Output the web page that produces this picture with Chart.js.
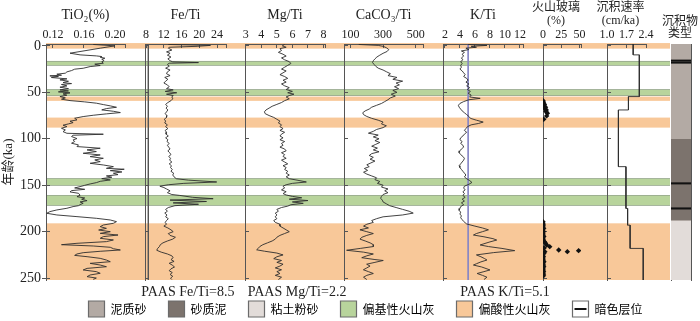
<!DOCTYPE html>
<html>
<head>
<meta charset="utf-8">
<title>Core profiles</title>
<script src="https://cdn.jsdelivr.net/npm/chart.js@4.4.1/dist/chart.umd.min.js"></script>
<style>
  html, body { margin: 0; padding: 0; background: #fff; overflow: hidden; }
  #wrap { position: relative; width: 700px; height: 321px; overflow: hidden; }
  #wrap canvas { position: absolute; }
</style>
</head>
<body>
<div id="wrap"></div>
<script>
// ---------- data (age in ka) ----------
const ageTicks = [0, 50, 100, 150, 200, 250];

const tiAge = [-1.5, 0, 2.5, 7.9, 9.7, 10.8, 11.5, 12.2, 13.3, 14.4,
  15.8, 17.2, 18.7, 19.7, 21.2, 22.3, 24.1, 25.1, 26.6, 28.0,
  29.4, 30.5, 31.6, 32.3, 33.0, 34.1, 35.5, 36.6, 38.1, 39.5,
  40.6, 41.6, 43.1, 44.5, 46.0, 47.4, 48.5, 49.5, 50.6, 51.7,
  53.1, 54.6, 56.0, 57.4, 58.9, 60.3, 61.7, 63.2, 64.6, 66.1,
  67.5, 68.9, 70.4, 71.8, 73.2, 74.7, 76.1, 77.9, 79.7, 81.1,
  82.6, 84.0, 85.4, 86.9, 88.7, 90.5, 92.3, 94.1, 95.1, 96.2,
  97.6, 99.8, 101.2, 103.0, 104.8, 106.6, 108.4, 110.2, 112.0, 113.8,
  115.6, 117.4, 119.2, 121.0, 122.8, 124.6, 126.4, 128.2, 130.0, 131.8,
  132.8, 134.3, 135.7, 137.1, 138.6, 140.0, 141.4, 142.9, 144.3, 145.8,
  147.2, 148.6, 150.1, 151.5, 152.9, 154.4, 155.8, 157.2, 158.7, 160.8,
  162.3, 163.7, 165.1, 166.6, 168.0, 169.4, 170.9, 172.0, 173.0, 174.8,
  176.6, 178.4, 180.2, 182.0, 183.8, 185.6, 187.4, 189.2, 191.0, 192.8,
  194.6, 196.4, 198.2, 200.0, 201.8, 203.6, 205.3, 207.1, 208.9, 210.7,
  212.5, 214.0, 215.4, 216.8, 218.3, 219.7, 221.1, 222.6, 224.0, 225.5,
  226.9, 228.7, 230.5, 232.3, 234.1, 235.9, 237.7, 239.5, 241.2, 243.0,
  244.8, 246.6, 248.4, 249.9, 251.3];
const tiVal = [0.172, 0.200, 0.181, 0.142, 0.155, 0.176, 0.183, 0.181, 0.187, 0.183,
  0.186, 0.183, 0.185, 0.174, 0.181, 0.168, 0.159, 0.148, 0.144, 0.138,
  0.136, 0.125, 0.131, 0.116, 0.127, 0.118, 0.138, 0.129, 0.140, 0.133,
  0.144, 0.131, 0.138, 0.129, 0.140, 0.129, 0.140, 0.127, 0.142, 0.133,
  0.138, 0.129, 0.136, 0.131, 0.142, 0.161, 0.176, 0.185, 0.194, 0.202,
  0.189, 0.183, 0.198, 0.207, 0.189, 0.172, 0.159, 0.148, 0.151, 0.142,
  0.146, 0.140, 0.133, 0.138, 0.131, 0.136, 0.133, 0.138, 0.185, 0.146,
  0.144, 0.151, 0.146, 0.148, 0.144, 0.153, 0.151, 0.181, 0.164, 0.176,
  0.159, 0.181, 0.168, 0.185, 0.174, 0.181, 0.168, 0.185, 0.198, 0.189,
  0.212, 0.194, 0.209, 0.198, 0.204, 0.189, 0.196, 0.183, 0.194, 0.181,
  0.176, 0.168, 0.161, 0.155, 0.148, 0.161, 0.144, 0.142, 0.153, 0.155,
  0.151, 0.161, 0.157, 0.164, 0.155, 0.159, 0.155, 0.153, 0.146, 0.138,
  0.125, 0.116, 0.112, 0.125, 0.151, 0.176, 0.194, 0.202, 0.198, 0.185,
  0.181, 0.189, 0.179, 0.194, 0.181, 0.204, 0.185, 0.181, 0.198, 0.189,
  0.151, 0.131, 0.172, 0.194, 0.198, 0.207, 0.181, 0.159, 0.151, 0.148,
  0.164, 0.181, 0.189, 0.194, 0.168, 0.181, 0.189, 0.164, 0.159, 0.176,
  0.181, 0.168, 0.164, 0.176, 0.172];

const feAge = [-1.5, -0.5, 0.5, 1.5, 2.5, 4.5, 6.5, 8, 10, 12,
  14, 16, 17.2, 18, 18.7, 20, 22, 24, 26, 28,
  30, 32, 34, 36, 38, 40, 42, 44, 46, 47.4,
  49, 50.5, 52, 53.5, 55, 57, 59, 61, 63, 65,
  67, 69, 71, 73, 75, 77, 79, 81, 83, 85,
  87, 89, 91, 93, 95, 97, 99, 101, 103, 105,
  107, 109, 111, 113, 115, 117, 119, 121, 123, 125,
  127, 129, 131, 133, 135, 137, 139, 141, 143, 144.5,
  146.5, 148, 149.5, 151, 152.5, 154, 156, 158, 160, 161,
  163, 164.5, 166, 167.5, 169, 170.5, 172, 174, 176, 178,
  180, 182, 184, 186, 188, 190, 192, 194, 196, 198,
  200, 202, 204, 206, 208, 210, 212, 214, 216, 218,
  220, 222, 224, 226, 228, 230, 232, 234, 236, 238,
  240, 242, 244, 246, 248, 250, 251.5];
const feVal = [13.0, 22.5, 19.5, 13.2, 13.0, 13.8, 12.6, 13.4, 12.8, 13.6,
  12.9, 13.4, 14.0, 19.8, 13.2, 12.8, 13.2, 12.4, 13.4, 12.8,
  12.6, 13.4, 12.2, 12.9, 12.4, 12.0, 12.8, 13.2, 12.6, 14.1,
  12.3, 14.9, 12.6, 14.1, 13.8, 14.0, 13.6, 12.9, 12.4, 12.8,
  12.5, 12.9, 12.6, 12.3, 12.7, 12.6, 12.1, 12.4, 12.2, 12.8,
  12.4, 12.9, 12.3, 12.6, 12.5, 13.0, 12.4, 12.9, 12.7, 13.2,
  12.8, 13.1, 13.4, 12.9, 13.3, 13.6, 13.1, 13.5, 13.3, 13.8,
  13.2, 13.7, 13.5, 13.9, 13.6, 14.2, 14.0, 14.3, 14.8, 17.5,
  23.9, 16.5, 13.0, 11.1, 12.0, 12.6, 13.4, 12.8, 13.8, 15.6,
  18.5, 23.1, 13.4, 21.6, 14.1, 19.8, 14.5, 13.0, 12.4, 12.8,
  12.2, 12.7, 12.4, 13.0, 12.6, 12.3, 12.6, 12.0, 12.9, 13.6,
  14.1, 13.0, 13.4, 14.6, 14.0, 12.8, 11.8, 11.2, 11.0, 10.6,
  10.4, 11.4, 12.8, 13.8, 14.1, 13.6, 14.3, 13.2, 13.9, 14.4,
  13.6, 13.2, 13.9, 13.4, 14.0, 13.5, 13.8];

const mgAge = [-1.5, 0, 1.5, 3, 5, 7, 9, 11, 13, 15,
  17, 19, 21, 23, 25, 27, 29, 31, 33, 35,
  37, 39, 41, 43, 45, 47, 49, 50.5, 52, 53.5,
  55, 57, 59, 61, 63, 65, 67, 69, 71, 73,
  75, 77, 79, 81, 83, 85, 87, 89, 91, 93,
  95, 97, 99, 101, 103, 105, 107, 109, 111, 113,
  115, 117, 119, 121, 123, 125, 127, 129, 131, 133,
  135, 137, 139, 141, 143, 144.5, 146.5, 148, 149.5, 151,
  153, 155, 157, 159, 160.5, 162, 163.5, 165, 166.5, 168,
  169.5, 171, 172.5, 174, 176, 178, 180, 182, 184, 186,
  188, 190, 192, 194, 196, 198, 200, 202, 204, 206,
  208, 210, 212, 214, 216, 218, 219.5, 221, 223, 225,
  227, 229, 231, 233, 235, 237, 239, 241, 243, 245,
  247, 249, 251.5];
const mgVal = [5.5, 5.35, 5.6, 5.2, 5.3, 5.1, 5.4, 5.6, 5.3, 5.5,
  5.8, 5.9, 5.7, 5.5, 5.3, 5.6, 5.4, 5.2, 5.5, 5.7,
  5.4, 5.6, 5.3, 5.5, 5.8, 5.6, 6.0, 5.7, 6.1, 5.8,
  5.6, 5.8, 5.5, 5.3, 5.0, 4.7, 4.5, 4.3, 4.2, 4.25,
  4.5, 4.8, 5.0, 5.2, 5.1, 5.3, 5.2, 5.4, 5.2, 5.5,
  5.3, 5.2, 5.4, 5.2, 5.5, 5.3, 5.4, 5.2, 5.5, 5.6,
  5.3, 5.5, 5.4, 5.6, 5.3, 5.5, 5.7, 5.4, 5.6, 5.5,
  5.7, 5.6, 5.8, 5.6, 5.8, 6.3, 6.9, 6.0, 5.6, 5.4,
  5.5, 5.3, 5.6, 5.4, 5.6, 6.0, 6.6, 5.8, 7.0, 6.0,
  6.7, 5.9, 5.7, 5.3, 5.0, 5.1, 4.9, 5.0, 4.9, 5.0,
  4.8, 4.9, 5.2, 5.2, 5.4, 5.6, 5.8, 5.5, 5.2, 5.0,
  4.9, 4.7, 4.4, 4.1, 3.9, 3.8, 3.7, 4.2, 5.0, 5.4,
  5.0, 4.8, 5.3, 5.0, 5.4, 5.2, 4.9, 5.3, 5.0, 5.2,
  4.9, 5.3, 5.1];

const caAge = [-1.5, -0.5, 0.5, 2, 4, 6, 8, 10, 12, 14,
  16, 18, 20, 22, 24, 26, 28, 30, 32, 34,
  36, 38, 40, 42, 44, 46, 48, 50, 52, 54,
  56, 58, 60, 62, 64, 66, 68, 70, 72, 74,
  76, 78, 80, 82, 84, 86, 88, 90, 92, 94,
  96, 98, 100, 102, 104, 106, 108, 110, 112, 114,
  116, 118, 120, 122, 124, 126, 128, 130, 132, 134,
  136, 138, 140, 142, 144, 146, 148, 150, 152, 154,
  156, 158, 160, 162, 164, 166, 168, 170, 172, 174,
  176, 178, 180, 182, 184, 186, 188, 190, 192, 194,
  196, 198, 200, 202, 204, 206, 208, 210, 212, 214,
  216, 218, 220, 222, 224, 226, 228, 230, 231, 233,
  235, 237, 239, 241, 243, 245, 247, 249, 251.5];
const caVal = [150, 270, 300, 320, 335, 325, 300, 280, 262, 250,
  240, 235, 245, 255, 270, 300, 322, 345, 330, 385,
  360, 420, 380, 400, 370, 395, 360, 385, 350, 375,
  345, 330, 310, 290, 260, 230, 215, 190, 175, 180,
  200, 230, 270, 300, 290, 320, 300, 260, 240, 210,
  270, 240, 275, 250, 280, 255, 230, 265, 240, 275,
  230, 215, 240, 220, 250, 225, 200, 215, 185, 205,
  180, 200, 230, 260, 250, 280, 265, 300, 290, 330,
  310, 330, 300, 290, 285, 295, 300, 320, 340, 380,
  420, 460, 485, 420, 300, 260, 230, 240, 200, 180,
  210, 158, 200, 240, 200, 170, 158, 190, 220, 240,
  240, 160, 76, 180, 240, 200, 169, 250, 301, 250,
  199, 220, 200, 179, 210, 240, 200, 180, 200];

const kAge = [-1.5, -0.5, 0.5, 1.5, 2.5, 4, 5.5, 7, 9, 11,
  13, 15, 17, 19, 21, 23, 25, 27, 29, 31,
  33, 35, 37, 39, 41, 43, 45, 47, 49, 51,
  53, 55, 56.5, 58, 60, 62, 64, 66, 68, 70,
  72, 74, 76, 78, 80, 82, 83.5, 85, 87, 89,
  91, 93, 95, 97, 99, 101, 103, 105, 107, 109,
  111, 113, 115, 117, 119, 121, 123, 125, 127, 129,
  131, 133, 135, 137, 139, 141, 143, 145, 147, 149,
  151, 153, 155, 157, 159, 161, 163, 165, 167, 169,
  171, 173, 175, 177, 179, 181, 183, 185, 187, 189,
  191.7, 194, 196, 198, 200, 202, 203.6, 205.5, 207.5, 209,
  211, 213, 214.3, 216, 218, 220.4, 222.5, 225, 227, 229,
  230.5, 232.5, 234.5, 235.9, 238, 240, 241.2, 243, 245, 247,
  249, 251.5];
const kVal = [5.0, 7.6, 5.5, 6.2, 4.8, 5.2, 4.2, 4.6, 4.3, 4.5,
  4.2, 4.4, 4.1, 4.3, 4.1, 4.2, 4.0, 4.3, 4.5, 4.7,
  4.5, 4.9, 5.1, 4.8, 5.2, 4.9, 5.3, 5.0, 5.4, 5.1,
  5.5, 5.3, 6.7, 5.2, 4.5, 4.0, 3.8, 3.9, 4.1, 4.3,
  4.6, 4.9, 5.2, 5.4, 6.2, 7.1, 6.5, 5.5, 5.0, 4.8,
  4.6, 4.9, 4.6, 4.4, 4.1, 4.0, 4.3, 4.1, 4.4, 4.5,
  4.2, 4.0, 3.9, 4.1, 4.4, 4.6, 4.5, 4.3, 4.1, 3.9,
  4.0, 4.2, 4.4, 4.6, 4.8, 4.6, 4.9, 5.3, 5.6, 5.2,
  4.6, 4.5, 4.7, 4.4, 4.6, 4.4, 4.7, 4.3, 4.6, 4.2,
  4.5, 4.1, 4.0, 3.9, 4.1, 4.0, 4.2, 4.1, 4.3, 4.5,
  4.9, 6.0, 7.0, 7.8, 7.0, 6.2, 5.8, 7.2, 8.4, 8.9,
  8.0, 7.2, 6.7, 7.8, 9.6, 11.3, 8.5, 6.2, 6.8, 7.3,
  7.6, 6.8, 6.2, 5.8, 6.9, 7.6, 8.0, 7.2, 6.3, 7.0,
  7.6, 7.2];

// volcanic glass (%) sample points
const glassAge = [58.9, 60.3, 61.7, 63.2, 64.6, 66.1, 67.5, 68.9, 70.7, 72.5, 75.4, 79.0,
  189.2, 191.0, 192.8, 194.6, 196.4, 198.2, 200.0, 201.8, 203.6, 205.3,
  207.1, 208.9, 210.7, 212.5, 214.3, 216.1, 217.5, 219.7, 221.5, 220.4,
  221.5, 223.3, 225.1, 226.9, 228.7, 230.5, 232.3, 234.1, 235.9, 237.7,
  239.5, 241.2, 243.0, 244.8, 246.6, 248.0];
const glassVal = [0, 0.5, 1, 2, 1.5, 3.5, 2.5, 4.5, 4, 6, 5, 1,
  0, 0, 0.5, 0, 1, 0, 0.5, 0, 0.3, 1.2,
  0, 0.6, 2, 3.5, 5, 9.2, 1.5, 21.5, 33.3, 48.7,
  2.5, 1.3, 0, 0.6, 0, 0.4, 1.3, 0, 0.6, 1,
  0, 0.4, 0.8, 0.3, 0.8, 0];

// sedimentation rate (cm/ka), constant between breaks
const rateBreaks = [-2, 9.7, 54.6, 69, 130, 175, 193, 218, 252];
const rateVal = [1.94, 2.16, 1.77, 1.41, 1.68, 1.74, 1.83, 2.30];

// PAAS reference values
const paasFe = 8.5;
const paasMg = 2.2;
const paasK = 5.1;

// ash layers
const bandStart = [-3, 16.2, 46.7, 54.6, 77.2, 142.5, 160.5, 191];
const bandEnd = [3, 21.2, 53.9, 59.2, 88, 150.4, 172, 252];
const bandType = ['偏酸性火山灰', '偏基性火山灰', '偏基性火山灰', '偏酸性火山灰',
  '偏酸性火山灰', '偏基性火山灰', '偏基性火山灰', '偏酸性火山灰'];

// sediment column
const sedTop = [-2, 100, 187.5];
const sedBottom = [100, 187.5, 252];
const sedType = ['泥质砂', '砂质泥', '粘土粉砂'];
const darkLayers = [15.9, 18.0, 148, 175];

const legendNames = ['泥质砂', '砂质泥', '粘土粉砂', '偏基性火山灰', '偏酸性火山灰', '暗色层位'];

// ---------- styling / layout ----------
const colors = {
  '泥质砂': '#b3aaa4',
  '砂质泥': '#7c736d',
  '粘土粉砂': '#e2dcd9',
  '偏基性火山灰': '#b8d49c',
  '偏酸性火山灰': '#f8c899',
  '暗色层位': '#ffffff'
};
const SERIF = "'Liberation Serif', 'Noto Sans CJK SC', serif";
const CJK = "'Noto Sans CJK SC', sans-serif";
const INK = '#222';
const AXIS = '#555';
const LINE = '#2e2e2e';
const AGE_MIN = -2, AGE_MAX = 252;
const PAD_L = 30, AXIS_W = 12, PAD_R = 60, TOP_H = 44, BOT_H = 41, H = 321;
const LAYER_HALF = 0.75;
// two-line headers go in the chart title box (wider than the axis), this is its height
const HEAD_FONT = { family: SERIF, size: 12, weight: 'normal', lineHeight: 1.1 };
const HEAD_PAD = 1.5;
const HEAD_H = HEAD_PAD + 2 * 12 * 1.1;

Chart.defaults.font.family = SERIF;
Chart.defaults.color = INK;

const wrap = document.getElementById('wrap');
function addCanvas(left, top, width, height) {
  const c = document.createElement('canvas');
  c.width = width; c.height = height;
  c.style.left = left + 'px'; c.style.top = top + 'px';
  c.style.width = width + 'px'; c.style.height = height + 'px';
  wrap.appendChild(c);
  return c.getContext('2d');
}

const pts = (xs, ys) => xs.map((v, i) => ({ x: v, y: ys[i] }));

function curve(xs, ys) {
  return { data: pts(xs, ys), showLine: true, borderColor: LINE, borderWidth: 0.9, pointRadius: 0, tension: 0 };
}
function paasLine(v, color) {
  return { data: [{ x: v, y: AGE_MIN }, { x: v, y: AGE_MAX }], showLine: true, borderColor: color, borderWidth: 1, pointRadius: 0 };
}

// ---------- background: age axis + ash bands ----------
// bands are painted from the y scale of the background chart, across its whole plot width
const ashBands = {
  id: 'ashBands',
  beforeDatasetsDraw(chart) {
    const { ctx, chartArea, scales: { y } } = chart;
    ctx.save();
    bandStart.forEach((a, i) => {
      const y0 = Math.max(y.getPixelForValue(a), chartArea.top - 1);
      const y1 = Math.min(y.getPixelForValue(bandEnd[i]), chartArea.bottom);
      ctx.fillStyle = colors[bandType[i]];
      ctx.fillRect(chartArea.left, y0, chartArea.right - chartArea.left, y1 - y0);
      if (bandType[i] === '偏基性火山灰') {
        ctx.strokeStyle = 'rgba(135,145,135,0.55)';
        ctx.lineWidth = 1;
        ctx.beginPath();
        ctx.moveTo(chartArea.left, Math.round(y0) + 0.5);
        ctx.lineTo(chartArea.right, Math.round(y0) + 0.5);
        ctx.moveTo(chartArea.left, Math.round(y1) - 0.5);
        ctx.lineTo(chartArea.right, Math.round(y1) - 0.5);
        ctx.stroke();
      }
    });
    ctx.restore();
  }
};

new Chart(addCanvas(0, 0, 700, H), {
  type: 'scatter',
  data: { datasets: [] },
  options: {
    responsive: false, animation: false, events: [],
    layout: { padding: { left: 0, right: 30, top: 0, bottom: BOT_H } },
    plugins: { legend: { display: false }, tooltip: { enabled: false } },
    scales: {
      x: {
        type: 'linear', position: 'top', min: 0, max: 1,
        afterFit: (s) => { s.height = TOP_H; },
        ticks: { display: false }, grid: { display: false }, border: { display: false }
      },
      y: {
        type: 'linear', position: 'left', reverse: true, min: AGE_MIN, max: AGE_MAX,
        afterBuildTicks: (s) => { s.ticks = ageTicks.map((v) => ({ value: v })); },
        afterFit: (s) => { s.width = 46; },
        ticks: { padding: 1, color: INK, font: { family: SERIF, size: 14 } },
        grid: { drawOnChartArea: false, tickLength: 4, color: AXIS },
        border: { color: AXIS, width: 1 },
        title: { display: true, text: '年龄(ka)', color: INK, font: { family: SERIF, size: 13 }, padding: { top: 1, bottom: 0 } }
      }
    }
  },
  plugins: [ashBands]
});

// ---------- profile panels ----------
const ratePts = [];
rateVal.forEach((v, i) => {
  ratePts.push({ x: v, y: rateBreaks[i] }, { x: v, y: rateBreaks[i + 1] });
});

const panels = [
  { left: 46, right: 125, min: 0.111, max: 0.213, ticks: [0.12, 0.16, 0.20], digits: 2, title: 'TiO₂(%)',
    datasets: [curve(tiVal, tiAge)] },
  { left: 145, right: 226, min: 7.75, max: 26, ticks: [8, 12, 16, 20, 24], digits: 0, title: 'Fe/Ti',
    note: 'PAAS Fe/Ti=' + paasFe.toFixed(1), noteAt: 17.4,
    datasets: [curve(feVal, feAge), paasLine(paasFe, '#555')] },
  { left: 245, right: 325, min: 2.95, max: 8.1, ticks: [3, 4, 5, 6, 7, 8], digits: 0, title: 'Mg/Ti',
    note: 'PAAS Mg/Ti=' + paasMg.toFixed(1), noteAt: 6.3,
    datasets: [curve(mgVal, mgAge)] },
  { left: 344, right: 423, min: 60, max: 545, ticks: [100, 300, 500], digits: 0, title: 'CaCO₃/Ti',
    datasets: [curve(caVal, caAge)] },
  { left: 443, right: 523, min: 1.75, max: 12.4, ticks: [2, 4, 6, 8, 10, 12], digits: 0, title: 'K/Ti',
    note: 'PAAS K/Ti=' + paasK.toFixed(1), noteAt: 10.0,
    datasets: [curve(kVal, kAge), paasLine(paasK, '#8686c6')] },
  { left: 543, right: 581, min: 0, max: 52, ticks: [0, 25, 50], digits: 0, title: ['火山玻璃', '(%)'],
    datasets: [{ data: pts(glassVal, glassAge), showLine: false, pointRadius: 2.7, pointStyle: 'rectRot',
      backgroundColor: '#111', borderWidth: 0 }] },
  { left: 607, right: 646, min: 1.0, max: 2.4, ticks: [1.0, 1.7, 2.4], digits: 1, title: ['沉积速率', '(cm/ka)'],
    datasets: [{ data: ratePts, showLine: true, borderColor: LINE, borderWidth: 0.9, pointRadius: 0 }] }
];

function topAxis(p) {
  const twoLine = Array.isArray(p.title);
  const vals = p.ticks.includes(p.max) ? p.ticks : p.ticks.concat([p.max]);
  return {
    type: 'linear', position: 'top', min: p.min, max: p.max,
    afterBuildTicks: (s) => { s.ticks = vals.map((v) => ({ value: v })); },
    afterFit: (s) => { s.height = twoLine ? TOP_H - HEAD_H : TOP_H; },
    ticks: {
      padding: 6, maxRotation: 0, autoSkip: false, color: INK,
      font: { family: SERIF, size: 12 },
      callback: (v) => (p.ticks.includes(v) ? v.toFixed(p.digits) : '')
    },
    grid: { drawOnChartArea: false, tickLength: -4, color: AXIS },
    border: { color: AXIS, width: 1 },
    title: {
      display: !twoLine, text: p.title, color: INK,
      font: { family: SERIF, size: 14, lineHeight: 1.2 },
      padding: { top: 6.6, bottom: 0 }
    }
  };
}

function ageAxis() {
  return {
    type: 'linear', position: 'left', reverse: true, min: AGE_MIN, max: AGE_MAX,
    afterBuildTicks: (s) => { s.ticks = ageTicks.map((v) => ({ value: v })); },
    afterFit: (s) => { s.width = AXIS_W; },
    ticks: { display: false },
    grid: { drawOnChartArea: false, tickLength: -4, color: AXIS },
    border: { color: AXIS, width: 1 }
  };
}

panels.forEach((p) => {
  const width = PAD_L + AXIS_W + (p.right - p.left) + PAD_R;
  const twoLine = Array.isArray(p.title);
  const scales = { x: topAxis(p), y: ageAxis() };
  if (p.note) {
    scales.xb = {
      type: 'linear', position: 'bottom', min: p.min, max: p.max,
      afterBuildTicks: (s) => { s.ticks = [{ value: p.noteAt }]; },
      afterFit: (s) => { s.height = BOT_H; },
      ticks: { padding: 3.6, maxRotation: 0, autoSkip: false, color: INK,
        font: { family: SERIF, size: 14 }, callback: () => p.note },
      grid: { display: false, drawTicks: false },
      border: { display: false }
    };
  }
  new Chart(addCanvas(p.left - PAD_L - AXIS_W, 0, width, H), {
    type: 'scatter',
    data: { datasets: p.datasets },
    options: {
      responsive: false, animation: false, events: [],
      layout: { padding: { left: PAD_L, right: PAD_R, top: 0, bottom: p.note ? 0 : BOT_H } },
      plugins: {
        legend: { display: false }, tooltip: { enabled: false },
        title: { display: twoLine, text: p.title, color: INK, font: HEAD_FONT, padding: { top: HEAD_PAD, bottom: 0 } }
      },
      scales: scales
    }
  });
});

// ---------- sediment type column ----------
const colLeft = 671, colRight = 691, colRightAxis = 10;
const layerSets = darkLayers.map((a) => ({
  data: [[a - LAYER_HALF, a + LAYER_HALF]], backgroundColor: '#111',
  grouped: false, barPercentage: 1, categoryPercentage: 1, borderWidth: 0
}));
const sedSets = sedTop.map((a, i) => ({
  data: [[a, sedBottom[i]]], backgroundColor: colors[sedType[i]],
  grouped: false, barPercentage: 1, categoryPercentage: 1, borderWidth: 0
}));
const colHeadPad = 16, colHeadLine = 12;
new Chart(addCanvas(colLeft - PAD_L - AXIS_W, 0, PAD_L + AXIS_W + (colRight - colLeft) + colRightAxis, H), {
  type: 'bar',
  data: { labels: [''], datasets: layerSets.concat(sedSets) },
  options: {
    responsive: false, animation: false, events: [],
    layout: { padding: { left: PAD_L, right: 0, top: 0, bottom: BOT_H } },
    plugins: {
      legend: { display: false }, tooltip: { enabled: false },
      title: { display: true, text: ['沉积物', '类型'], color: INK,
        font: { family: SERIF, size: 12, weight: 'normal', lineHeight: colHeadLine + 'px' },
        padding: { top: colHeadPad, bottom: 0 } }
    },
    scales: {
      x: {
        type: 'category', position: 'top',
        afterFit: (s) => { s.height = TOP_H - colHeadPad - 2 * colHeadLine; },
        ticks: { display: false }, grid: { display: false },
        border: { color: AXIS, width: 1 }
      },
      y: {
        type: 'linear', position: 'left', reverse: true, min: AGE_MIN, max: AGE_MAX,
        afterFit: (s) => { s.width = AXIS_W; },
        ticks: { display: false }, grid: { display: false },
        border: { color: AXIS, width: 1 }
      },
      yr: {
        type: 'linear', position: 'right', reverse: true, min: AGE_MIN, max: AGE_MAX,
        afterFit: (s) => { s.width = colRightAxis; },
        ticks: { display: false }, grid: { display: false },
        border: { color: AXIS, width: 1 }
      }
    }
  }
});

// ---------- legend ----------
// the legend may only use half of its canvas height, so the canvas runs past the page bottom
const darkLayerMark = {
  id: 'darkLayerMark',
  afterDraw(chart) {
    const hb = chart.legend.legendHitBoxes[legendNames.indexOf('暗色层位')];
    if (!hb) return;
    const c = chart.ctx;
    c.save();
    c.strokeStyle = '#111';
    c.lineWidth = 2;
    c.beginPath();
    c.moveTo(hb.left + 2, hb.top + 8);
    c.lineTo(hb.left + 14, hb.top + 8);
    c.stroke();
    c.restore();
  }
};

new Chart(addCanvas(0, 279, 700, 110), {
  type: 'bar',
  data: { labels: [], datasets: [] },
  options: {
    responsive: false, animation: false, events: [],
    layout: { padding: { left: 31, right: 0, top: 0, bottom: 0 } },
    scales: { x: { display: false }, y: { display: false } },
    plugins: {
      tooltip: { enabled: false },
      legend: {
        display: true, position: 'top', align: 'center',
        labels: {
          boxWidth: 16, boxHeight: 16, padding: 22, color: INK,
          font: { family: CJK, size: 12 },
          generateLabels: () => legendNames.map((n) => ({
            text: n, fillStyle: colors[n], strokeStyle: '#6b6b6b', lineWidth: 1.2, hidden: false
          }))
        }
      }
    }
  },
  plugins: [darkLayerMark]
});
</script>
</body>
</html>
